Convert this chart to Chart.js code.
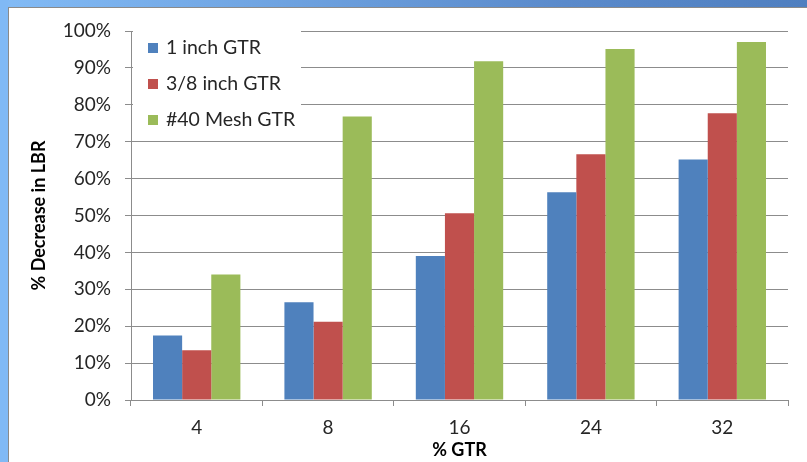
<!DOCTYPE html>
<html><head><meta charset="utf-8">
<script src="https://cdn.jsdelivr.net/npm/chart.js@4"></script>
<style>
html,body{margin:0;padding:0;background:#fff;}
#frame{position:relative;width:807px;height:462px;overflow:hidden;background:#fff;}
#topband{position:absolute;left:0;top:0;width:807px;height:7px;background:linear-gradient(to right,#82bbf6,#5a8acb 70%,#4f7fc0);}
#leftband{position:absolute;left:0;top:0;width:8px;height:462px;background:#80b9f5;}
#inner{position:absolute;left:8px;top:7px;right:0;bottom:0;border-left:1px solid #8a8a8a;border-top:1px solid #8a8a8a;background:#fff;}
canvas{position:absolute;left:0;top:0;}
</style>
</head><body>
<div id="frame">
<div id="topband"></div><div id="leftband"></div><div id="inner"></div>
<canvas id="c" width="807" height="462"></canvas>
</div>
<script>
const categories = ['4', '8', '16', '24', '32'];
const seriesNames = ['1 inch GTR', '3/8 inch GTR', '#40 Mesh GTR'];
const oneInch = [17.5, 26.5, 39.0, 56.3, 65.2];
const threeEighthInch = [13.5, 21.2, 50.6, 66.6, 77.7];
const mesh40 = [34.0, 76.8, 91.8, 95.1, 97.0];
const yTickValues = [0, 10, 20, 30, 40, 50, 60, 70, 80, 90, 100];
const xTitle = '% GTR';
const yTitle = '% Decrease in LBR';

const colors = ['#4f81bd', '#c0504d', '#9bbb59'];
const FONT = 'Lato, "Open Sans", sans-serif';
const gridCol = '#8c8c8c';

const legendPlugin = {
  id: 'boxLegend',
  beforeDatasetsDraw(chart) {
    const ctx = chart.ctx;
    const a = chart.chartArea;
    ctx.save();
    ctx.fillStyle = '#ffffff';
    ctx.fillRect(a.left + 2, a.top - 6, 168, 112);
    ctx.font = '19.5px ' + FONT;
    ctx.textBaseline = 'middle';
    ctx.textAlign = 'left';
    chart.data.datasets.forEach((ds, i) => {
      const y = a.top + 17 + i * 36;
      ctx.fillStyle = ds.backgroundColor;
      ctx.fillRect(a.left + 17, y - 5, 10, 10);
      ctx.fillStyle = '#262626';
      ctx.fillText(ds.label, a.left + 35, y);
    });
    ctx.restore();
  }
};

new Chart(document.getElementById('c'), {
  type: 'bar',
  data: {
    labels: categories,
    datasets: [
      { label: seriesNames[0], data: oneInch, backgroundColor: colors[0] },
      { label: seriesNames[1], data: threeEighthInch, backgroundColor: colors[1] },
      { label: seriesNames[2], data: mesh40, backgroundColor: colors[2] }
    ]
  },
  options: {
    responsive: false,
    animation: false,
    devicePixelRatio: 1,
    layout: { padding: { left: 0, right: 19, top: 31, bottom: 0 } },
    datasets: { bar: { categoryPercentage: 0.665, barPercentage: 1.0 } },
    plugins: { legend: { display: false }, tooltip: { enabled: false } },
    scales: {
      x: {
        offset: true,
        grid: { display: true, drawOnChartArea: false, drawTicks: true, tickLength: 6, color: gridCol, offset: true },
        border: { display: true, color: gridCol },
        ticks: { color: '#262626', font: { family: FONT, size: 19 }, padding: 10, maxRotation: 0 },
        title: { display: true, text: xTitle, color: '#000', font: { family: FONT, size: 18, weight: 'bold' }, padding: { top: 0, bottom: 1 } },
        afterFit(s) { s.height = 62; }
      },
      y: {
        min: 0, max: 100,
        afterBuildTicks(s) { s.ticks = yTickValues.map(v => ({ value: v })); },
        grid: { color: gridCol, tickLength: 6, drawTicks: true },
        border: { display: true, color: gridCol },
        ticks: { color: '#262626', font: { family: FONT, size: 19 }, padding: 14, callback: v => v + '%' },
        title: { display: true, text: yTitle, color: '#000', font: { family: FONT, size: 18, weight: 'bold' }, padding: { top: 28, bottom: 0 } },
        afterFit(s) { s.width = 131; }
      }
    }
  },
  plugins: [legendPlugin]
});
</script>
</body></html>
